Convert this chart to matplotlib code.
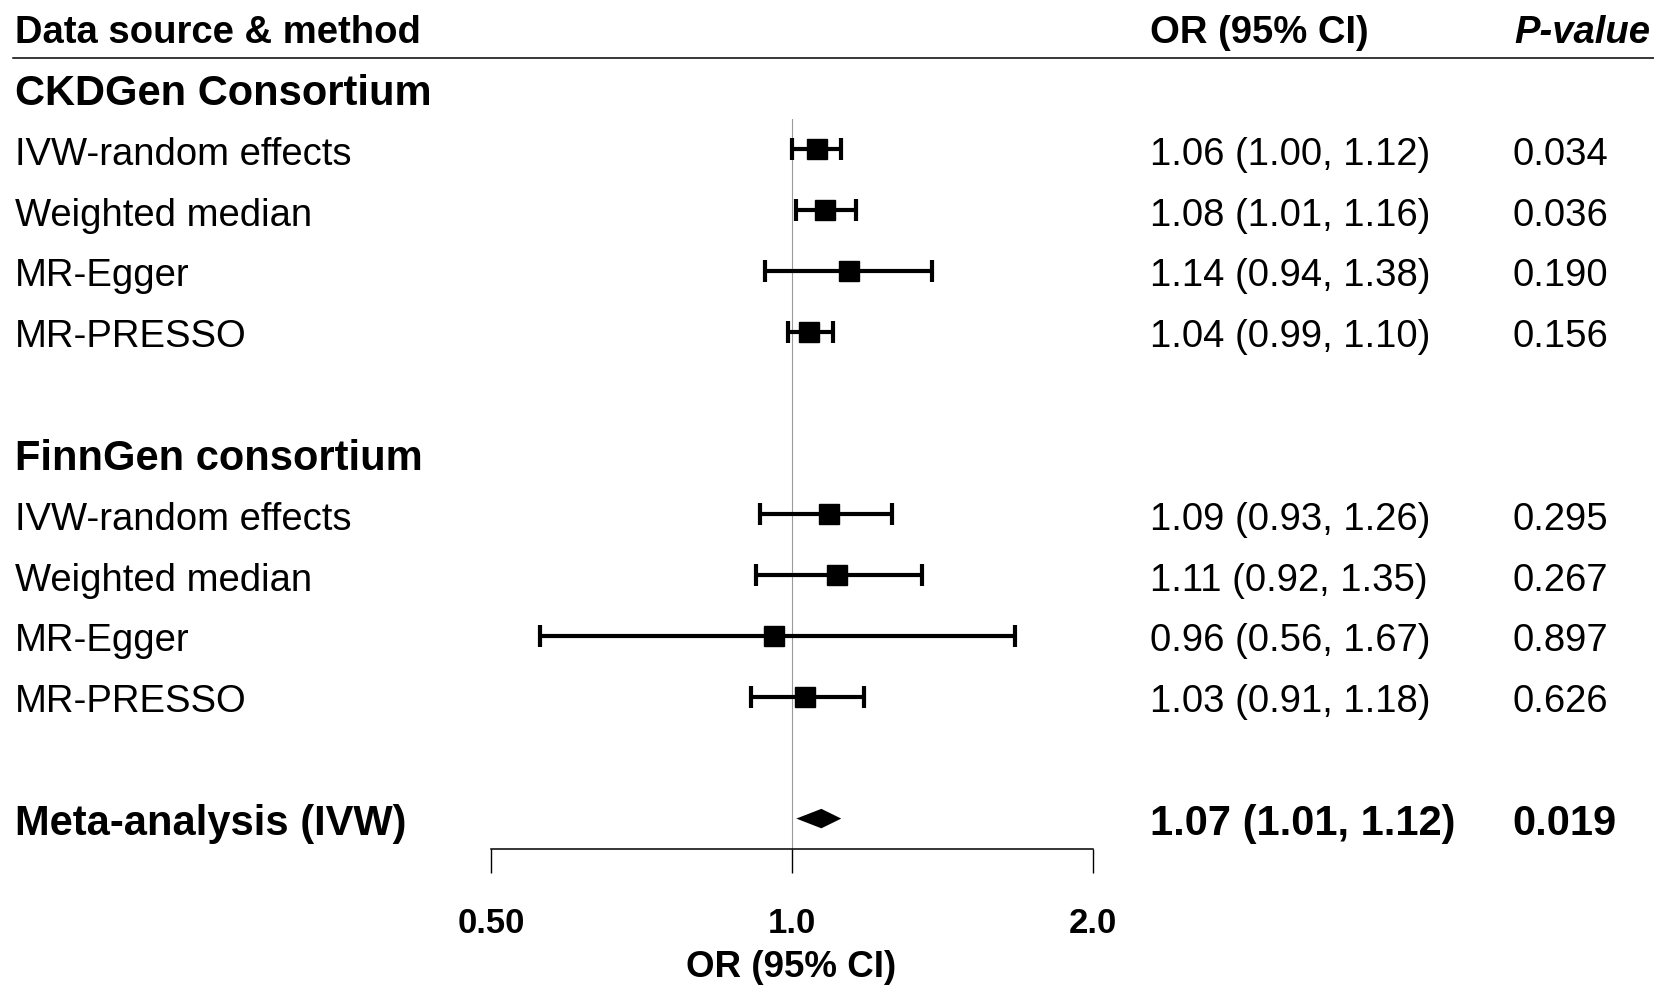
import matplotlib
matplotlib.use('Agg')
import matplotlib.pyplot as plt
from matplotlib.lines import Line2D
from matplotlib.ticker import NullLocator
from matplotlib.transforms import blended_transform_factory
import numpy as np

plt.rcParams['font.family'] = ['Liberation Sans', 'DejaVu Sans']

# data
methods = ['IVW-random effects', 'Weighted median', 'MR-Egger', 'MR-PRESSO']
groups = ['CKDGen Consortium', 'FinnGen consortium']

ckd_or = [1.06, 1.08, 1.14, 1.04]
ckd_lo = [1.00, 1.01, 0.94, 0.99]
ckd_hi = [1.12, 1.16, 1.38, 1.10]
ckd_p = ['0.034', '0.036', '0.190', '0.156']

finn_or = [1.09, 1.11, 0.96, 1.03]
finn_lo = [0.93, 0.92, 0.56, 0.91]
finn_hi = [1.26, 1.35, 1.67, 1.18]
finn_p = ['0.295', '0.267', '0.897', '0.626']

meta_label = 'Meta-analysis (IVW)'
meta_or, meta_lo, meta_hi = 1.07, 1.01, 1.12
meta_p = '0.019'

xticks = [0.5, 1.0, 2.0]
xticklabels = ['0.50', '1.0', '2.0']

W, H = 1654, 995
fig = plt.figure(figsize=(W / 100, H / 100), dpi=100)

# plot panel: x from 0.50 to 2.0 (px 491..1093), rows 0.5..12.5 (px 120..850)
ax = fig.add_axes([491 / W, 1 - 850 / H, (1093 - 491) / W, (850 - 120) / H])
ax.set_xscale('log')
ax.set_xlim(0.5, 2.0)
ax.set_ylim(12.5, 0.5)
for s in ['left', 'top', 'right']:
    ax.spines[s].set_visible(False)
ax.spines['bottom'].set_linewidth(1.1)
ax.set_yticks([])
ax.set_xticks(xticks)
ax.set_xticklabels(xticklabels, fontsize=25, fontweight='bold')
ax.xaxis.set_minor_locator(NullLocator())
ax.tick_params(axis='x', direction='out', length=17, width=1.0, pad=24)

ax.axvline(1.0, color='#9a9a9a', lw=0.8, zorder=0)

trans = blended_transform_factory(fig.transFigure, ax.transData)
x_lab, x_or, x_p = 15 / W, 1150 / W, 1512 / W
reg, bold = 27.5, 30
dy = 0.07  # nudge text down so caps sit centred on the row

blocks = [(groups[0], 0, ckd_or, ckd_lo, ckd_hi, ckd_p),
          (groups[1], 6, finn_or, finn_lo, finn_hi, finn_p)]
for name, r0, ors, los, his, ps in blocks:
    ax.text(x_lab, r0 + dy, name, transform=trans, fontsize=bold, fontweight='bold', va='center')
    rows = np.arange(len(methods)) + r0 + 1
    ors, los, his = np.array(ors), np.array(los), np.array(his)
    ax.errorbar(ors, rows, xerr=[ors - los, his - ors], fmt='s', color='black',
                ms=15, elinewidth=3, capsize=8, capthick=3)
    for r, m, o, lo, hi, p in zip(rows, methods, ors, los, his, ps):
        ax.text(x_lab, r + dy, m, transform=trans, fontsize=reg, va='center')
        ax.text(x_or, r + dy, '%.2f (%.2f, %.2f)' % (o, lo, hi), transform=trans,
                fontsize=reg, va='center')
        ax.text(x_p, r + dy, p, transform=trans, fontsize=reg, va='center')

# meta-analysis diamond
r = 12
h = 0.16
ax.fill([meta_lo, meta_or, meta_hi, meta_or], [r, r - h, r, r + h], color='black', lw=0)
ax.text(x_lab, r + dy, meta_label, transform=trans, fontsize=bold, fontweight='bold', va='center')
ax.text(x_or, r + dy, '%.2f (%.2f, %.2f)' % (meta_or, meta_lo, meta_hi), transform=trans,
        fontsize=bold, fontweight='bold', va='center')
ax.text(x_p, r + dy, meta_p, transform=trans, fontsize=bold, fontweight='bold', va='center')

# column headers
hy = 1 - 33 / H
fig.text(x_lab, hy, 'Data source & method', fontsize=27.5, fontweight='bold', va='center')
fig.text(x_or, hy, 'OR (95% CI)', fontsize=27.5, fontweight='bold', va='center')
fig.text(1514 / W, hy, 'P-value', fontsize=27.5, fontweight='bold', style='italic', va='center')
fig.add_artist(Line2D([13 / W, 1], [1 - 59 / H, 1 - 59 / H], color='black', lw=1.1))

fig.text(791 / W, 1 - 968 / H, 'OR (95% CI)', fontsize=26.5, fontweight='bold',
         ha='center', va='center')

fig.savefig('out.png', dpi=100)
